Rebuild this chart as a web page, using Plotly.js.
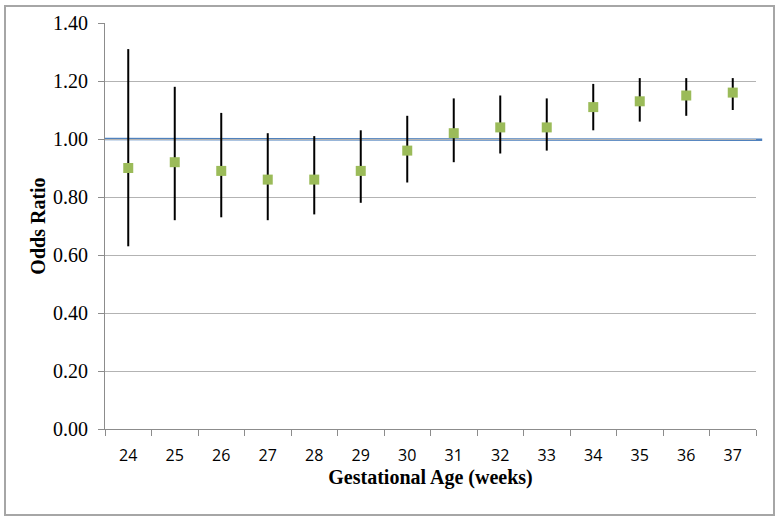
<!DOCTYPE html>
<html>
<head>
<meta charset="utf-8">
<script src="https://cdn.plot.ly/plotly-3.0.1.min.js"></script>
<style>
  html, body { margin: 0; padding: 0; background: #ffffff; }
  #frame { position: absolute; left: 4px; top: 5px; width: 767px; height: 507px; border: 2px solid #a6a6a6; }
  #chart { position: absolute; left: 0; top: 0; width: 779px; height: 520px; }
</style>
</head>
<body>
<div id="frame"></div>
<div id="chart"></div>
<script>
const weeks = ['24','25','26','27','28','29','30','31','32','33','34','35','36','37'];
const oddsRatio = [0.90, 0.92, 0.89, 0.86, 0.86, 0.89, 0.96, 1.02, 1.04, 1.04, 1.11, 1.13, 1.15, 1.16];
const ciUpper   = [1.31, 1.18, 1.09, 1.02, 1.01, 1.03, 1.08, 1.14, 1.15, 1.14, 1.19, 1.21, 1.21, 1.21];
const ciLower   = [0.63, 0.72, 0.73, 0.72, 0.74, 0.78, 0.85, 0.92, 0.95, 0.96, 1.03, 1.06, 1.08, 1.10];
const refLine   = [1.00, 0.997];
const yTicks    = [0, 0.2, 0.4, 0.6, 0.8, 1.0, 1.2, 1.4];

const errPlus  = ciUpper.map((u, i) => u - oddsRatio[i]);
const errMinus = oddsRatio.map((v, i) => v - ciLower[i]);

const trace = {
  type: 'scatter',
  mode: 'markers',
  x: weeks,
  y: oddsRatio,
  marker: { symbol: 'square', size: 10, color: '#9BBB59' },
  error_y: {
    type: 'data', symmetric: false,
    array: errPlus, arrayminus: errMinus,
    color: '#000000', thickness: 2, width: 0
  },
  hoverinfo: 'x+y'
};

const layout = {
  width: 779, height: 520,
  paper_bgcolor: 'rgba(0,0,0,0)',
  plot_bgcolor: 'rgba(0,0,0,0)',
  margin: { l: 105, r: 23, t: 23, b: 91 },
  showlegend: false,
  xaxis: {
    type: 'category',
    tickvals: weeks, ticktext: weeks,
    range: [-0.5, weeks.length - 0.5],
    tickson: 'boundaries',
    ticks: 'outside', ticklen: 6, tickcolor: '#8c8c8c', tickwidth: 1,
    ticklabelstandoff: 12,
    showline: true, linecolor: '#8c8c8c', linewidth: 1,
    showgrid: false, zeroline: false,
    tickfont: { family: 'Open Sans, Liberation Sans, sans-serif', size: 16, color: '#000' },
    title: { text: '<b>Gestational Age (weeks)</b>', standoff: 3,
             font: { family: 'Liberation Serif, Times New Roman, serif', size: 20, color: '#000' } }
  },
  yaxis: {
    range: [0, 1.4],
    tickvals: yTicks,
    tickformat: '.2f',
    ticks: 'outside', ticklen: 6, tickcolor: '#8c8c8c', tickwidth: 1,
    ticklabelstandoff: 6,
    showline: true, linecolor: '#8c8c8c', linewidth: 1,
    showgrid: true, gridcolor: '#b3b3b3', gridwidth: 1,
    zeroline: false,
    tickfont: { family: 'Liberation Serif, Times New Roman, serif', size: 20, color: '#000' },
    title: { text: '<b>Odds Ratio</b>', standoff: 2,
             font: { family: 'Liberation Serif, Times New Roman, serif', size: 20, color: '#000' } }
  },
  shapes: [{
    type: 'line', xref: 'paper', yref: 'y',
    x0: 0, x1: 1.0095, y0: refLine[0], y1: refLine[1],
    line: { color: '#4F81BD', width: 2.5 },
    layer: 'below'
  }]
};

Plotly.newPlot('chart', [trace], layout, { displayModeBar: false, staticPlot: true });
</script>
</body>
</html>
